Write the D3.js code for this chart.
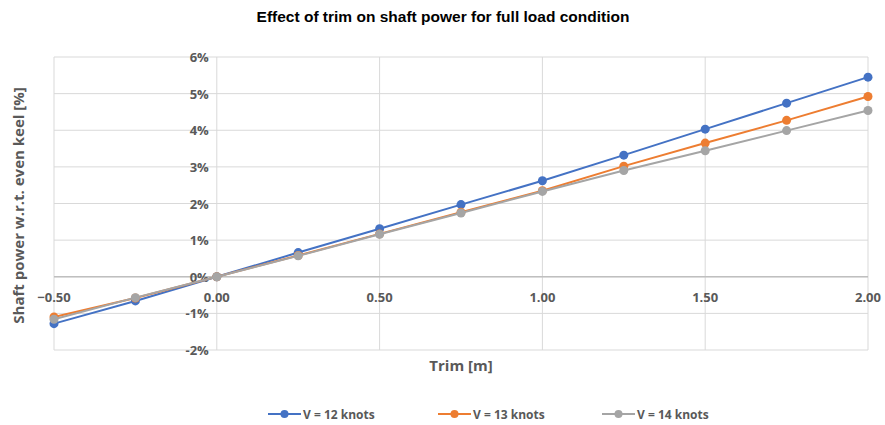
<!DOCTYPE html>
<html>
<head>
<meta charset="utf-8">
<script src="https://cdn.jsdelivr.net/npm/d3@7"></script>
<style>
  body { margin: 0; background: #fff; }
  text { font-family: "Open Sans", "Liberation Sans", sans-serif; }
</style>
</head>
<body>
<svg id="chart"></svg>
<script>
var width = 885, height = 425;
var margin = { top: 57, right: 17, bottom: 75, left: 54 };

var trim = [-0.5, -0.25, 0, 0.25, 0.5, 0.75, 1.0, 1.25, 1.5, 1.75, 2.0];
var v12 = [-1.28, -0.66, 0, 0.66, 1.31, 1.97, 2.62, 3.32, 4.03, 4.74, 5.45];
var v13 = [-1.10, -0.58, 0, 0.58, 1.17, 1.76, 2.35, 3.02, 3.65, 4.27, 4.92];
var v14 = [-1.16, -0.57, 0, 0.57, 1.16, 1.74, 2.33, 2.90, 3.44, 3.99, 4.54];
var seriesNames = ['V = 12 knots', 'V = 13 knots', 'V = 14 knots'];
var colors = ['#4472C4', '#ED7D31', '#A5A5A5'];
var xTicks = [-0.5, 0, 0.5, 1.0, 1.5, 2.0];
var yTicks = [-2, -1, 0, 1, 2, 3, 4, 5, 6];

var series = [v12, v13, v14];

var svg = d3.select('#chart').attr('width', width).attr('height', height);

var x = d3.scaleLinear().domain([-0.5, 2.0]).range([margin.left, width - margin.right]);
var y = d3.scaleLinear().domain([-2, 6]).range([height - margin.bottom, margin.top]);

// title
svg.append('text')
    .attr('x', 443).attr('y', 22)
    .attr('text-anchor', 'middle')
    .style('font-family', '"Liberation Sans", Arial, sans-serif')
    .style('font-size', '15.5px').style('font-weight', 'bold').style('fill', '#000')
    .text('Effect of trim on shaft power for full load condition');

// horizontal gridlines
svg.append('g').selectAll('line').data(yTicks).enter().append('line')
    .attr('x1', x(-0.5)).attr('x2', x(2.0))
    .attr('y1', function (d) { return y(d); }).attr('y2', function (d) { return y(d); })
    .style('stroke', '#d9d9d9').style('stroke-width', 1);

// vertical gridlines
svg.append('g').selectAll('line').data(xTicks).enter().append('line')
    .attr('x1', function (d) { return x(d); }).attr('x2', function (d) { return x(d); })
    .attr('y1', y(6)).attr('y2', y(-2))
    .style('stroke', '#d9d9d9').style('stroke-width', 1);

// zero line (x axis)
svg.append('line')
    .attr('x1', x(-0.5)).attr('x2', x(2.0))
    .attr('y1', y(0)).attr('y2', y(0))
    .style('stroke', '#bfbfbf').style('stroke-width', 1.5);

// y tick labels
svg.append('g').selectAll('text').data(yTicks).enter().append('text')
    .attr('x', x(0) - 8)
    .attr('y', function (d) { return y(d) + 5; })
    .attr('text-anchor', 'end')
    .style('font-size', '13px').style('font-weight', 'bold').style('fill', '#595959')
    .text(function (d) { return d + '%'; });

// x tick labels
svg.append('g').selectAll('text').data(xTicks).enter().append('text')
    .attr('x', function (d) { return x(d); })
    .attr('y', y(0) + 25)
    .attr('text-anchor', 'middle')
    .style('font-size', '13px').style('font-weight', 'bold').style('fill', '#595959')
    .text(function (d) { return d3.format('.2f')(d); });

// axis titles
svg.append('text')
    .attr('x', (x(-0.5) + x(2.0)) / 2).attr('y', 371)
    .attr('text-anchor', 'middle')
    .style('font-size', '15px').style('font-weight', 'bold').style('fill', '#595959')
    .text('Trim [m]');

svg.append('text')
    .attr('transform', 'translate(24,' + (y(2) + 2) + ') rotate(-90)')
    .attr('text-anchor', 'middle')
    .style('font-size', '15px').style('font-weight', 'bold').style('fill', '#595959')
    .text('Shaft power w.r.t. even keel [%]');

var line = d3.line()
    .x(function (d, i) { return x(trim[i]); })
    .y(function (d) { return y(d); });

series.forEach(function (s, k) {
    svg.append('path')
        .attr('d', line(s))
        .attr('fill', 'none')
        .attr('stroke', colors[k])
        .attr('stroke-width', 2);
    svg.append('g').selectAll('circle').data(s).enter().append('circle')
        .attr('cx', function (d, i) { return x(trim[i]); })
        .attr('cy', function (d) { return y(d); })
        .attr('r', 4.5)
        .style('fill', colors[k]);
});

// legend
var legendX = [268, 438, 602];
var legend = svg.append('g').selectAll('g').data(seriesNames).enter().append('g')
    .attr('transform', function (d, i) { return 'translate(' + legendX[i] + ',414)'; });
legend.append('line')
    .attr('x1', 0).attr('x2', 33).attr('y1', 0).attr('y2', 0)
    .style('stroke', function (d, i) { return colors[i]; }).style('stroke-width', 2);
legend.append('circle')
    .attr('cx', 16.5).attr('cy', 0).attr('r', 4)
    .style('fill', function (d, i) { return colors[i]; });
legend.append('text')
    .attr('x', 35).attr('y', 4.5)
    .style('font-size', '12px').style('font-weight', 'bold').style('fill', '#595959')
    .text(function (d) { return d; });
</script>
</body>
</html>
